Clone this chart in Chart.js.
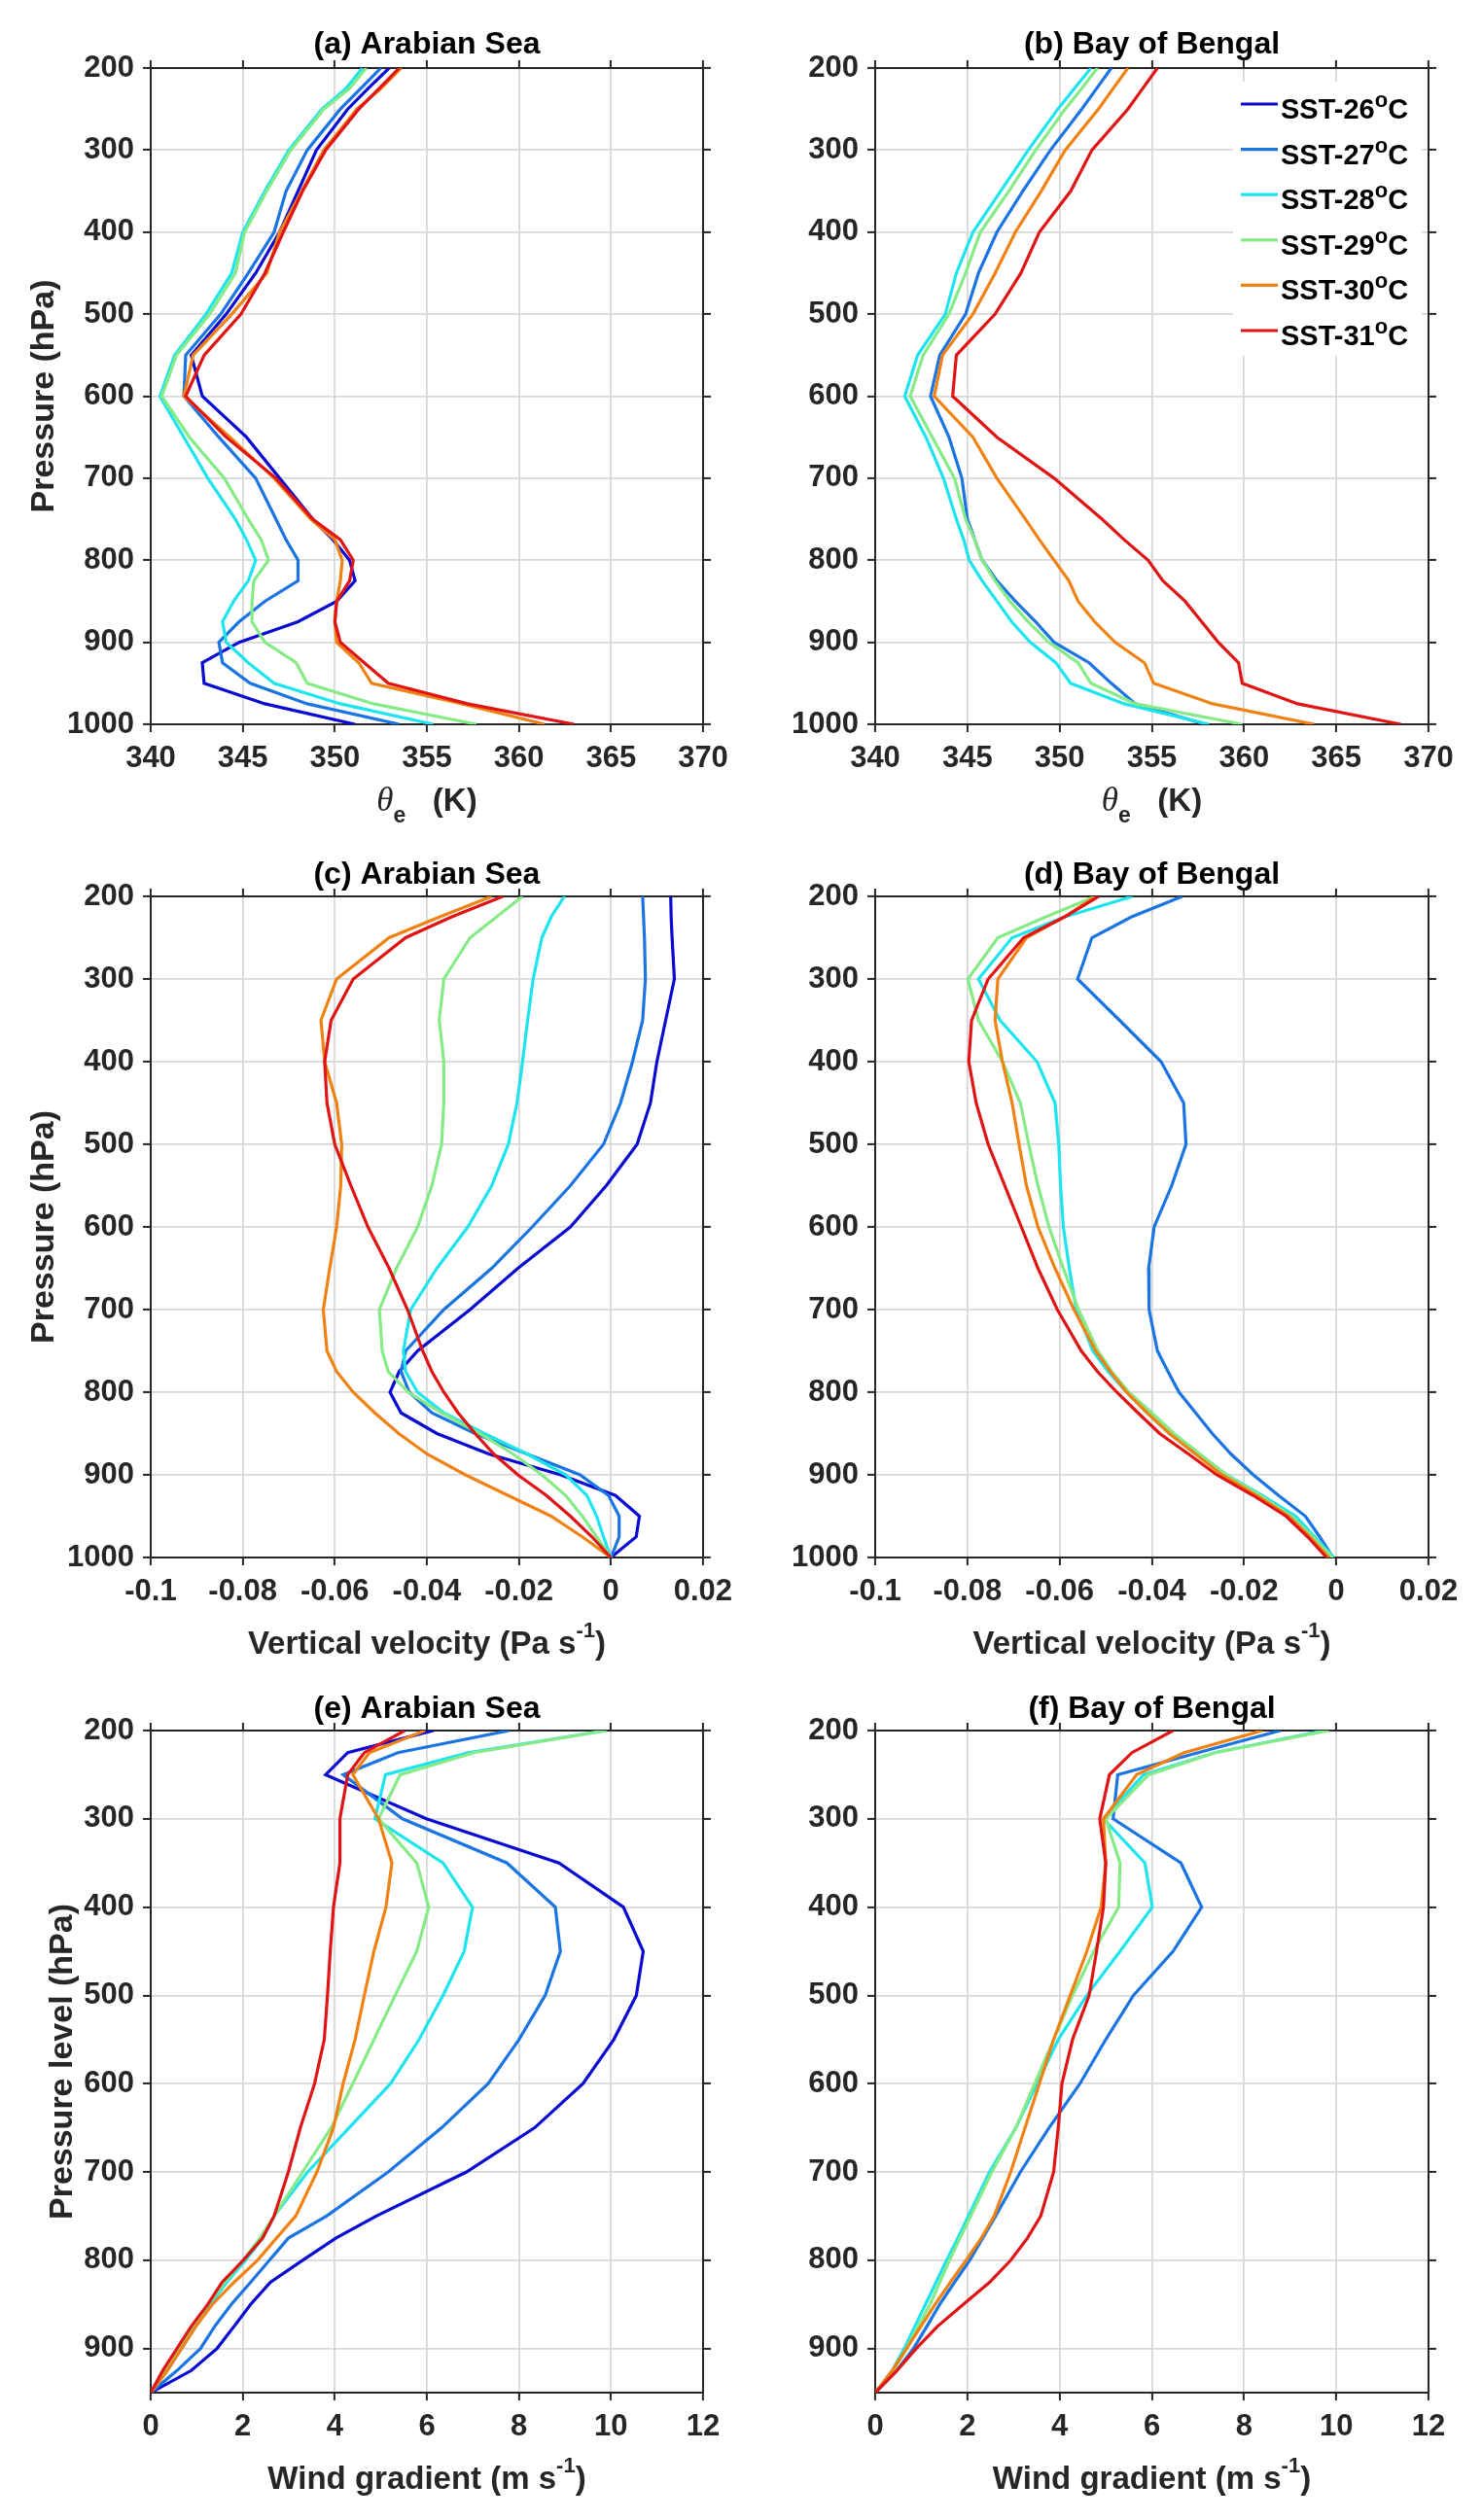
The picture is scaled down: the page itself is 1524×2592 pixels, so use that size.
<!DOCTYPE html>
<html><head><meta charset="utf-8">
<script src="https://cdn.jsdelivr.net/npm/chart.js@4.4.1/dist/chart.umd.min.js"></script>
<style>
html,body{margin:0;padding:0;background:#fff;}
#wrap{position:relative;width:1524px;height:2592px;background:#fff;overflow:hidden;}
#wrap canvas{position:absolute;}
</style></head><body><div id="wrap"></div>
<script>
// ---------- categories / levels ----------
const levels = [200,225,250,300,350,400,450,500,550,600,650,700,750,775,800,825,850,875,900,925,950,975,1000];
const levelsWind = [200,225,250,300,350,400,450,500,550,600,650,700,750,775,800,825,850,875,900,925,950];
const seriesLabels = ['SST-26°C','SST-27°C','SST-28°C','SST-29°C','SST-30°C','SST-31°C'];
const seriesColors = ['#0a0ad2','#1a74e2','#1ee4ee','#86ea86','#f08214','#e01414'];

// ---------- tick labels ----------
const thetaTicks = [340,345,350,355,360,365,370];
const velTicks = [-0.1,-0.08,-0.06,-0.04,-0.02,0,0.02];
const windTicks = [0,2,4,6,8,10,12];
const pressureTicks = [200,300,400,500,600,700,800,900,1000];
const pressureTicksWind = [200,300,400,500,600,700,800,900];

// ---------- (a) theta-e, Arabian Sea ----------
const thetaAS26 = [352.95,351.8,350.7,349.0,348.0,347.0,345.7,344.1,342.2,342.8,345.2,347.0,348.8,349.9,350.8,351.1,350.1,348.0,344.8,342.8,342.9,346.2,351.1];
const thetaAS27 = [352.5,351.4,350.3,348.5,347.35,346.7,345.3,343.8,341.9,341.8,343.7,345.7,346.8,347.35,348.0,348.0,346.2,344.8,343.7,343.9,345.4,348.5,353.5];
const thetaAS28 = [351.5,350.6,349.3,347.5,346.2,345.0,344.4,343.0,341.3,340.5,341.8,343.1,344.6,345.2,345.7,345.3,344.5,343.9,344.1,345.3,346.7,350.3,355.35];
const thetaAS29 = [351.7,350.8,349.4,347.6,346.3,345.1,344.6,343.2,341.4,340.6,342.1,344.0,345.3,346.0,346.4,345.6,345.5,345.5,346.2,347.9,348.5,352.1,357.7];
const thetaAS30 = [353.6,352.5,351.2,349.4,348.2,347.0,346.3,344.4,342.3,341.8,344.3,346.7,348.7,350.0,350.4,350.3,350.1,350.0,350.1,351.3,352.0,356.9,361.4];
const thetaAS31 = [353.5,352.4,351.3,349.5,348.25,347.2,346.2,344.9,342.9,341.9,344.1,346.8,348.8,350.3,351.0,350.8,350.1,350.0,350.3,351.6,352.9,357.2,363.0];

// ---------- (b) theta-e, Bay of Bengal ----------
const thetaBB27 = [352.8,352.0,351.2,349.5,348.0,346.6,345.6,344.9,343.5,343.0,344.0,344.7,345.0,345.4,345.8,346.6,347.6,348.7,349.7,351.6,352.8,354.1,357.9];
const thetaBB28 = [351.7,350.8,349.9,348.3,346.8,345.3,344.4,343.8,342.3,341.6,342.75,343.7,344.4,344.8,345.1,345.8,346.6,347.4,348.4,349.8,350.6,353.5,358.1];
const thetaBB29 = [352.05,351.2,350.3,348.7,347.25,345.7,344.9,344.0,342.6,341.9,343.1,344.3,344.9,345.4,345.8,346.5,347.3,348.3,349.4,351.0,351.7,354.1,359.9];
const thetaBB30 = [353.7,352.9,352.1,350.3,349.0,347.6,346.5,345.3,343.65,343.2,345.3,346.6,348.15,348.9,349.7,350.5,351.0,351.9,353.0,354.6,355.1,358.3,363.8];
const thetaBB31 = [355.3,354.5,353.7,351.75,350.6,348.9,347.9,346.5,344.4,344.2,346.6,349.7,352.3,353.5,354.8,355.6,356.8,357.7,358.6,359.7,359.9,362.9,368.5];

// ---------- (c) vertical velocity, Arabian Sea ----------
const omegaAS26 = [0.013,0.0131,0.0133,0.0138,0.0119,0.010,0.0086,0.0057,-0.001,-0.0088,-0.0202,-0.0306,-0.042,-0.046,-0.048,-0.0456,-0.0378,-0.0264,-0.0109,0.001,0.0062,0.0055,0];
const omegaAS27 = [0.0069,0.0071,0.0073,0.0075,0.0069,0.0047,0.0021,-0.0016,-0.0088,-0.0171,-0.0259,-0.0363,-0.0446,-0.0456,-0.0438,-0.0389,-0.0295,-0.0181,-0.0067,-0.0005,0.0018,0.0018,0];
const omegaAS28 = [-0.0101,-0.013,-0.015,-0.0169,-0.0181,-0.0192,-0.0204,-0.0223,-0.0259,-0.0311,-0.0378,-0.0435,-0.0451,-0.0446,-0.042,-0.0363,-0.0275,-0.0181,-0.0098,-0.0052,-0.0031,-0.0016,0];
const omegaAS29 = [-0.0192,-0.0249,-0.0306,-0.0363,-0.0373,-0.0363,-0.0363,-0.0368,-0.0389,-0.042,-0.0466,-0.0503,-0.0497,-0.0484,-0.044,-0.0368,-0.0285,-0.0212,-0.015,-0.0098,-0.0062,-0.0031,0];
const omegaAS30 = [-0.0259,-0.0373,-0.0482,-0.0596,-0.063,-0.0622,-0.0596,-0.0585,-0.0587,-0.0596,-0.0611,-0.0625,-0.0617,-0.0596,-0.056,-0.0513,-0.0461,-0.0399,-0.0316,-0.0223,-0.013,-0.0062,0];
const omegaAS31 = [-0.0235,-0.0347,-0.0446,-0.056,-0.0608,-0.0622,-0.0617,-0.06,-0.0565,-0.0528,-0.0482,-0.0442,-0.0409,-0.0389,-0.0363,-0.0332,-0.0295,-0.0254,-0.0202,-0.014,-0.0088,-0.0041,0];

// ---------- (d) vertical velocity, Bay of Bengal ----------
const omegaBB27 = [-0.0334,-0.0445,-0.053,-0.0561,-0.047,-0.038,-0.0331,-0.0326,-0.0357,-0.0395,-0.0407,-0.0406,-0.0388,-0.0365,-0.0341,-0.0305,-0.0269,-0.0228,-0.018,-0.0125,-0.0067,-0.0036,-0.0007];
const omegaBB28 = [-0.0442,-0.059,-0.0703,-0.0776,-0.0729,-0.0649,-0.061,-0.0602,-0.0598,-0.0592,-0.0579,-0.0564,-0.0528,-0.0495,-0.0455,-0.041,-0.0362,-0.030,-0.0238,-0.016,-0.0088,-0.0047,-0.0005];
const omegaBB29 = [-0.0522,-0.0631,-0.0734,-0.0799,-0.0776,-0.0724,-0.0685,-0.0667,-0.0647,-0.0623,-0.0592,-0.0559,-0.0517,-0.0487,-0.045,-0.040,-0.0352,-0.0295,-0.0238,-0.0165,-0.0098,-0.0052,-0.0008];
const omegaBB30 = [-0.0522,-0.059,-0.0672,-0.0734,-0.074,-0.0724,-0.0703,-0.0688,-0.0672,-0.0647,-0.061,-0.0569,-0.0522,-0.049,-0.0455,-0.041,-0.0362,-0.0305,-0.0248,-0.0172,-0.0103,-0.0057,-0.0016];
const omegaBB31 = [-0.0515,-0.059,-0.0678,-0.0755,-0.0791,-0.0797,-0.0781,-0.0755,-0.0719,-0.0683,-0.0647,-0.0605,-0.0553,-0.0518,-0.0476,-0.043,-0.0383,-0.032,-0.0259,-0.018,-0.0109,-0.0062,-0.0021];

// ---------- (e) wind gradient, Arabian Sea ----------
const windAS26 = [6.14,4.28,3.8,5.99,8.87,10.27,10.7,10.55,10.06,9.39,8.34,6.86,4.9,4.02,3.3,2.6,2.17,1.81,1.44,0.88,0];
const windAS27 = [7.79,5.37,4.18,5.47,7.74,8.79,8.9,8.57,8.0,7.33,6.32,5.16,3.82,2.99,2.58,2.17,1.75,1.39,1.08,0.57,0];
const windAS28 = [9.9,6.9,5.1,4.87,6.35,6.99,6.81,6.35,5.83,5.21,4.31,3.41,2.68,2.43,2.06,1.65,1.29,0.98,0.67,0.36,0];
const windAS29 = [9.89,7.02,5.42,4.95,5.78,6.04,5.78,5.31,4.85,4.39,3.92,3.3,2.68,2.37,2.01,1.6,1.24,0.93,0.62,0.31,0];
const windAS30 = [5.96,4.75,4.39,4.95,5.24,5.11,4.85,4.64,4.44,4.18,3.97,3.61,3.15,2.73,2.32,1.81,1.34,0.98,0.67,0.36,0];
const windAS31 = [5.52,4.64,4.28,4.11,4.11,3.97,3.9,3.84,3.77,3.56,3.25,2.99,2.68,2.43,2.01,1.55,1.24,0.88,0.57,0.26,0];

// ---------- (f) wind gradient, Bay of Bengal ----------
const windBB27 = [8.79,7.0,5.26,5.16,6.63,7.08,6.46,5.6,5.0,4.44,3.77,3.15,2.61,2.33,2.05,1.72,1.4,1.12,0.83,0.47,0];
const windBB28 = [9.74,7.37,5.82,4.95,5.85,6.01,5.31,4.59,3.97,3.51,3.05,2.48,2.02,1.79,1.55,1.32,1.09,0.86,0.63,0.37,0];
const windBB29 = [9.84,7.37,5.93,5.0,5.31,5.28,4.74,4.28,3.87,3.46,3.05,2.53,2.07,1.84,1.61,1.4,1.19,0.93,0.68,0.39,0];
const windBB30 = [8.4,6.7,5.67,4.95,5.0,4.9,4.59,4.23,3.87,3.56,3.25,2.94,2.58,2.3,1.97,1.63,1.3,0.99,0.68,0.37,0];
const windBB31 = [6.46,5.57,5.08,4.87,5.0,4.95,4.8,4.64,4.28,4.05,3.97,3.87,3.59,3.3,2.94,2.48,1.91,1.35,0.89,0.47,0];

// ---------- styling ----------
const FONT = '"Liberation Sans", Arial, Helvetica, sans-serif';
const AXIS = '#262626';
const GRID = '#d8d8d8';
const wrap = document.getElementById('wrap');

function fmt(v){ return String(+Number(v).toFixed(3)); }

function drawRich(ctx, parts, cx, cy){
  ctx.save();
  ctx.textAlign = 'left';
  ctx.textBaseline = 'middle';
  let total = 0;
  parts.forEach(p => { ctx.font = p.font; p.w = ctx.measureText(p.t).width; total += p.w; });
  let x = cx - total/2;
  parts.forEach(p => { ctx.font = p.font; ctx.fillStyle = p.color || AXIS; ctx.fillText(p.t, x, cy + (p.dy||0)); x += p.w; });
  ctx.restore();
}

const xTitles = {
  theta: [
    {t:'θ', font:'italic 35px "Liberation Serif", "DejaVu Serif", serif'},
    {t:'e', font:'bold 23px '+FONT, dy:15},
    {t:'   (K)', font:'bold 33px '+FONT}
  ],
  vel: [
    {t:'Vertical velocity (Pa s', font:'bold 33px '+FONT},
    {t:'-1', font:'bold 22px '+FONT, dy:-14},
    {t:')', font:'bold 33px '+FONT}
  ],
  wind: [
    {t:'Wind gradient (m s', font:'bold 33px '+FONT},
    {t:'-1', font:'bold 22px '+FONT, dy:-14},
    {t:')', font:'bold 33px '+FONT}
  ]
};

const decorPlugin = {
  id: 'decor',
  afterDraw(chart, args, opts){
    const ctx = chart.ctx, a = chart.chartArea;
    const cx = (a.left + a.right)/2;
    ctx.save();
    ctx.font = 'bold 32px ' + FONT;
    ctx.fillStyle = '#000';
    ctx.textAlign = 'center';
    ctx.textBaseline = 'middle';
    ctx.fillText(opts.title, cx, a.top + opts.titleDy);
    ctx.restore();
    drawRich(ctx, xTitles[opts.xTitle], cx, a.bottom + opts.xTitleDy);
  }
};

function drawRichLeft(ctx, parts, x, cy){
  ctx.textAlign = 'left'; ctx.textBaseline = 'middle'; ctx.fillStyle = '#000';
  parts.forEach(p => { ctx.font = p.font; ctx.fillText(p.t, x, cy + (p.dy||0)); x += ctx.measureText(p.t).width; });
}

const legendPlugin = {
  id: 'sstLegend',
  afterDatasetsDraw(chart, args, opts){
    if (!opts.show) return;
    const ctx = chart.ctx;
    ctx.save();
    ctx.fillStyle = '#fff';
    ctx.fillRect(opts.x, opts.y, opts.w, opts.h);
    seriesLabels.forEach((lab, i) => {
      const yy = opts.y0 + i*opts.step;
      ctx.strokeStyle = seriesColors[i];
      ctx.lineWidth = 3.2;
      ctx.beginPath();
      ctx.moveTo(opts.lx0, yy); ctx.lineTo(opts.lx1, yy);
      ctx.stroke();
      const pieces = lab.split('°');
      drawRichLeft(ctx, [
        {t: pieces[0], font:'bold 29px '+FONT, dy:7},
        {t: 'o', font:'bold 22px '+FONT, dy:-3},
        {t: pieces[1], font:'bold 29px '+FONT, dy:7}
      ], opts.tx, yy);
    });
    ctx.restore();
  }
};

function makePanel(P){
  const c = document.createElement('canvas');
  c.width = P.w; c.height = P.h;
  c.style.left = P.x + 'px'; c.style.top = P.y + 'px';
  c.style.width = P.w + 'px'; c.style.height = P.h + 'px';
  wrap.appendChild(c);
  const g = P.area;
  const tickFont = {family: FONT, size: 31, weight: 'bold'};
  const datasets = P.series.map(([idx, vals]) => ({
    label: seriesLabels[idx],
    data: P.levels.map((p, k) => ({x: vals[k], y: p})),
    borderColor: seriesColors[idx],
    backgroundColor: seriesColors[idx],
    borderWidth: 3.2, pointRadius: 0, tension: 0, fill: false,
    order: 5 - idx, xAxisID: 'x', yAxisID: 'y'
  }));
  const gridOn = {color: GRID, lineWidth: 1.8, tickLength: 8, tickColor: AXIS, tickWidth: 2, drawOnChartArea: true, drawTicks: true};
  const gridOff = Object.assign({}, gridOn, {drawOnChartArea: false});
  const border = {display: true, color: AXIS, width: 2};
  const setTicks = arr => (s => { s.ticks = arr.map(v => ({value: v})); });
  new Chart(c, {
    type: 'line',
    data: {datasets},
    plugins: [decorPlugin, legendPlugin],
    options: {
      responsive: false, animation: false, events: [],
      layout: {padding: 0},
      plugins: {
        legend: {display: false}, tooltip: {enabled: false}, title: {display: false},
        decor: {title: P.title, titleDy: P.titleDy, xTitle: P.xTitle, xTitleDy: P.xTitleDy},
        sstLegend: P.legend || {show: false}
      },
      scales: {
        x: {type: 'linear', position: 'bottom', min: P.xMin, max: P.xMax,
            afterBuildTicks: setTicks(P.xTicks),
            ticks: {font: tickFont, color: AXIS, padding: 9, maxRotation: 0, autoSkip: false, callback: v => fmt(v)},
            grid: gridOn, border, afterFit: s => { s.height = P.h - g.b; }},
        xTop: {type: 'linear', position: 'top', min: P.xMin, max: P.xMax,
            afterBuildTicks: setTicks(P.xTicks),
            ticks: {display: false}, grid: gridOff, border, afterFit: s => { s.height = g.t; }},
        y: {type: 'linear', position: 'left', reverse: true, min: P.yMin, max: P.yMax,
            afterBuildTicks: setTicks(P.yTicks),
            ticks: {font: tickFont, color: AXIS, padding: 9, autoSkip: false, callback: v => fmt(v)},
            grid: gridOn, border,
            title: {display: !!P.yTitle, text: P.yTitle || '', color: AXIS, font: {family: FONT, size: 34, weight: 'bold'}, padding: {top: P.yTitlePad || 0, bottom: 0}},
            afterFit: s => { s.width = g.l; }},
        yRight: {type: 'linear', position: 'right', reverse: true, min: P.yMin, max: P.yMax,
            afterBuildTicks: setTicks(P.yTicks),
            ticks: {display: false}, grid: gridOff, border, afterFit: s => { s.width = P.w - g.r; }}
      }
    }
  });
}

const panels = [
  {x:0, y:0, w:762, h:860, area:{l:155,t:70,r:723,b:745}, levels: levels,
   series:[[0,thetaAS26],[1,thetaAS27],[2,thetaAS28],[3,thetaAS29],[4,thetaAS30],[5,thetaAS31]],
   xMin:340, xMax:370, xTicks: thetaTicks, yMin:200, yMax:1000, yTicks: pressureTicks,
   title:'(a) Arabian Sea', titleDy:-24, yTitle:'Pressure (hPa)', yTitlePad:25, xTitle:'theta', xTitleDy:80},
  {x:762, y:0, w:762, h:860, area:{l:138,t:70,r:707,b:745}, levels: levels,
   series:[[1,thetaBB27],[2,thetaBB28],[3,thetaBB29],[4,thetaBB30],[5,thetaBB31]],
   xMin:340, xMax:370, xTicks: thetaTicks, yMin:200, yMax:1000, yTicks: pressureTicks,
   title:'(b) Bay of Bengal', titleDy:-24, xTitle:'theta', xTitleDy:80,
   legend:{show:true, x:506, y:84, w:194, h:282, y0:107, step:46.6, lx0:514, lx1:552, tx:555}},
  {x:0, y:860, w:762, h:860, area:{l:155,t:62,r:723,b:742}, levels: levels,
   series:[[0,omegaAS26],[1,omegaAS27],[2,omegaAS28],[3,omegaAS29],[4,omegaAS30],[5,omegaAS31]],
   xMin:-0.1, xMax:0.02, xTicks: velTicks, yMin:200, yMax:1000, yTicks: pressureTicks,
   title:'(c) Arabian Sea', titleDy:-22, yTitle:'Pressure (hPa)', yTitlePad:25, xTitle:'vel', xTitleDy:90},
  {x:762, y:860, w:762, h:860, area:{l:138,t:62,r:707,b:742}, levels: levels,
   series:[[1,omegaBB27],[2,omegaBB28],[3,omegaBB29],[4,omegaBB30],[5,omegaBB31]],
   xMin:-0.1, xMax:0.02, xTicks: velTicks, yMin:200, yMax:1000, yTicks: pressureTicks,
   title:'(d) Bay of Bengal', titleDy:-22, xTitle:'vel', xTitleDy:90},
  {x:0, y:1720, w:762, h:872, area:{l:155,t:60,r:723,b:741}, levels: levelsWind,
   series:[[0,windAS26],[1,windAS27],[2,windAS28],[3,windAS29],[4,windAS30],[5,windAS31]],
   xMin:0, xMax:12, xTicks: windTicks, yMin:200, yMax:950, yTicks: pressureTicksWind,
   title:'(e) Arabian Sea', titleDy:-22, yTitle:'Pressure level (hPa)', yTitlePad:44, xTitle:'wind', xTitleDy:90},
  {x:762, y:1720, w:762, h:872, area:{l:138,t:60,r:707,b:741}, levels: levelsWind,
   series:[[1,windBB27],[2,windBB28],[3,windBB29],[4,windBB30],[5,windBB31]],
   xMin:0, xMax:12, xTicks: windTicks, yMin:200, yMax:950, yTicks: pressureTicksWind,
   title:'(f) Bay of Bengal', titleDy:-22, xTitle:'wind', xTitleDy:90}
];
panels.forEach(makePanel);
</script>
</body></html>
